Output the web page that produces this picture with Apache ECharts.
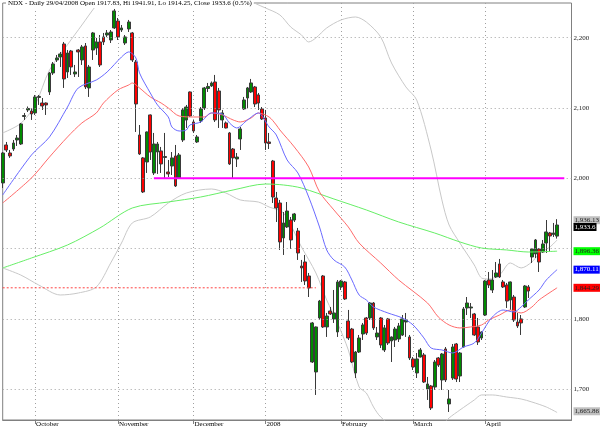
<!DOCTYPE html>
<html><head><meta charset="utf-8">
<script src="https://cdn.jsdelivr.net/npm/echarts@6/dist/echarts.min.js"></script>
<style>html,body{margin:0;padding:0;background:#fff}#c{width:600px;height:428px}</style>
</head><body><div id="c"></div>
<script>
// Trading-day slots (Sept 18 2007 .. Apr 29 2008 plus 4 empty slots at the right)
const slotCount = 159;
const categories = Array.from({length: slotCount}, (_, i) => String(i));
const monthTicks = {9:'October',32:'November',53:'December',73:'2008',94:'February',114:'March',134:'April'};
const yTicks = [1700, 1800, 1900, 2000, 2100, 2200];
const yTickLabels = ['1,700', '1,800', '', '2,000', '2,100', '2,200'];
const title = 'NDX - Daily 29/04/2008 Open 1917.83, Hi 1941.91, Lo 1914.25, Close 1933.6 (0.5%)';

// [open, high, low, close]
const ohlc = [
[1993.4,2037.4,1986.2,2036.0],[2047.4,2051.7,2037.4,2040.3],[2036.0,2040.3,2029.0,2031.8],[2041.7,2054.5,2038.9,2050.2],
[2054.5,2061.6,2046.0,2057.3],[2048.8,2078.7,2047.4,2077.3],[2087.9,2092.9,2083.0,2089.3],[2097.2,2102.1,2094.3,2099.3],
[2095.7,2100.0,2083.0,2091.5],[2092.9,2118.5,2090.1,2115.7],[2115.0,2118.5,2104.3,2116.4],[2107.1,2114.2,2097.2,2102.9],
[2107.1,2107.8,2090.1,2104.3],[2122.8,2151.2,2118.5,2149.8],[2149.8,2165.4,2147.0,2162.6],[2168.3,2175.4,2165.4,2171.1],
[2172.5,2179.7,2158.3,2176.8],[2191.0,2193.9,2128.5,2141.3],[2151.2,2182.5,2142.7,2178.2],[2181.1,2182.5,2147.0,2158.3],
[2148.4,2161.2,2144.1,2151.2],[2182.5,2183.9,2144.1,2179.7],[2168.3,2189.6,2161.2,2186.8],[2188.2,2192.4,2127.0,2129.9],
[2128.5,2161.2,2115.7,2158.3],[2182.5,2208.1,2168.3,2206.7],[2185.3,2199.6,2175.4,2193.9],[2193.9,2203.8,2158.3,2161.2],
[2201.0,2206.7,2189.6,2193.9],[2203.8,2210.9,2201.0,2206.7],[2196.7,2210.9,2192.4,2208.1],[2213.8,2240.8,2212.4,2238.0],
[2223.7,2228.0,2196.7,2201.0],[2210.9,2218.0,2208.1,2213.8],[2192.4,2203.8,2189.6,2201.0],[2212.4,2225.2,2208.1,2222.3],
[2206.7,2208.1,2165.4,2168.3],[2165.4,2168.3,2065.9,2105.7],[2061.6,2075.8,2033.2,2034.6],[2029.0,2030.3,1979.1,1980.6],
[2023.2,2066.6,2007.6,2065.9],[2090.1,2090.8,2026.1,2037.4],[2007.6,2064.5,2004.7,2048.8],[2037.4,2051.7,2006.2,2048.8],
[2038.9,2044.6,2007.6,2020.4],[2029.6,2064.5,2000.5,2031.0],[2009.0,2026.1,2001.9,2006.2],[2017.5,2037.4,2004.7,2029.0],
[2031.8,2047.4,1987.7,1989.1],[2000.5,2036.0,1999.0,2033.2],[2054.5,2100.0,2051.7,2097.2],[2083.0,2104.3,2071.6,2101.4],
[2122.8,2123.5,2087.2,2088.6],[2080.1,2083.0,2064.5,2067.3],[2051.7,2061.6,2050.2,2058.8],[2081.5,2101.4,2078.7,2098.6],
[2100.0,2129.9,2097.2,2128.5],[2127.7,2135.6,2122.8,2130.6],[2131.3,2137.7,2129.9,2135.6],[2137.0,2147.0,2080.1,2083.0],
[2124.2,2128.5,2071.6,2097.2],[2083.0,2097.2,2071.6,2092.9],[2078.7,2080.8,2070.9,2071.6],[2064.5,2065.9,2019.0,2020.4],
[2041.7,2043.1,2000.5,2029.0],[2027.5,2036.0,2016.1,2030.3],[2055.9,2073.0,2040.3,2070.2],[2098.6,2115.7,2097.2,2111.4],
[2114.2,2129.9,2100.0,2128.5],[2122.8,2141.3,2121.4,2135.6],[2129.9,2131.3,2101.4,2105.7],[2118.5,2121.4,2097.2,2107.1],
[2098.6,2101.4,2083.0,2084.4],[2085.8,2097.2,2040.3,2050.2],[2051.7,2064.5,2041.7,2049.5],[2024.6,2026.1,1964.9,1973.4],
[1972.0,1980.6,1937.9,1957.8],[1964.9,1969.2,1898.1,1909.5],[1915.2,1952.1,1891.0,1936.5],[1930.8,1966.3,1929.4,1953.5],
[1940.7,1945.0,1899.5,1912.3],[1940.7,1950.7,1937.9,1949.3],[1925.1,1929.4,1883.9,1893.8],[1875.3,1883.9,1852.6,1872.5],
[1881.0,1891.0,1848.3,1854.0],[1861.1,1865.4,1831.2,1844.0],[1738.8,1795.7,1737.4,1794.3],[1724.6,1789.3,1691.9,1788.6],
[1801.4,1827.0,1798.5,1825.5],[1861.1,1862.5,1787.2,1788.6],[1788.6,1808.5,1774.4,1804.2],[1811.3,1817.0,1805.6,1807.1],
[1800.0,1841.2,1794.3,1808.5],[1781.5,1855.4,1774.4,1852.6],[1845.5,1855.4,1841.2,1854.0],[1852.6,1854.0,1827.0,1828.4],
[1797.1,1812.8,1770.1,1772.9],[1785.7,1787.2,1737.4,1738.8],[1723.2,1754.4,1716.0,1753.0],[1753.0,1777.2,1751.6,1772.9],
[1778.6,1794.3,1770.1,1791.4],[1801.4,1802.8,1777.2,1780.0],[1801.4,1824.1,1798.5,1822.7],[1822.7,1824.1,1784.3,1787.2],
[1774.4,1788.6,1770.1,1780.0],[1801.4,1802.8,1758.7,1763.0],[1755.9,1791.4,1753.0,1787.2],[1800.0,1801.4,1763.0,1765.8],
[1768.7,1775.1,1738.8,1774.4],[1770.1,1788.6,1760.1,1785.7],[1771.5,1794.3,1767.2,1790.0],[1777.2,1805.6,1775.8,1800.0],
[1795.7,1808.5,1774.4,1798.5],[1774.4,1777.2,1741.6,1744.5],[1743.1,1745.9,1727.4,1731.7],[1723.2,1751.6,1716.0,1743.1],
[1745.9,1758.7,1745.2,1755.9],[1748.8,1751.6,1708.9,1710.3],[1700.4,1717.5,1684.8,1707.5],[1704.7,1706.1,1670.5,1673.4],
[1703.2,1741.6,1699.0,1738.8],[1744.5,1745.9,1731.7,1734.5],[1713.2,1751.6,1699.0,1750.2],[1757.3,1760.1,1710.3,1713.2],
[1679.1,1699.0,1667.7,1686.2],[1716.0,1764.4,1713.2,1760.1],[1764.4,1765.8,1710.3,1714.6],[1718.9,1753.0,1710.3,1751.6],
[1760.1,1817.0,1759.4,1814.2],[1815.6,1831.2,1805.6,1822.7],[1815.6,1822.7,1801.4,1817.0],[1807.1,1808.5,1775.8,1777.2],
[1788.6,1801.4,1763.0,1767.2],[1772.9,1782.2,1770.1,1781.5],[1805.6,1855.4,1804.2,1854.0],[1855.4,1866.8,1844.0,1848.3],
[1841.2,1869.6,1836.9,1855.4],[1859.7,1881.0,1858.3,1865.4],[1878.2,1885.3,1858.3,1859.7],[1852.6,1855.4,1844.0,1845.5],
[1848.3,1851.2,1815.6,1825.5],[1827.0,1853.3,1812.8,1852.6],[1831.2,1834.1,1795.7,1798.5],[1795.7,1808.5,1787.2,1790.0],
[1800.0,1805.6,1777.2,1794.3],[1817.0,1848.3,1815.6,1846.9],[1845.5,1848.3,1829.8,1839.8],[1888.1,1900.9,1879.6,1899.5],
[1892.4,1913.7,1886.7,1912.3],[1899.5,1900.9,1866.8,1881.0],[1895.2,1912.3,1893.8,1906.6],[1908.0,1940.7,1893.8,1923.7],
[1922.3,1923.7,1895.2,1918.0],[1920.1,1936.5,1916.6,1922.3],[1917.83,1941.91,1914.25,1933.6]
];

// Indicator lines, read as [slot, value]
const maFast = [[0,1976.3],[8,2033.2],[13,2058.8],[18,2101.4],[21,2128.5],[26,2139.8],[29,2151.2],[33,2172.5],[35,2179.7],[37,2171.1],[38,2149.8],[41,2121.3],[43,2104.3],[46,2087.2],[47,2073.0],[49,2067.3],[51,2068.7],[52,2075.8],[55,2080.1],[58,2092.9],[61,2091.5],[63,2078.7],[65,2071.6],[68,2083.0],[71,2092.9],[74,2073.0],[76,2061.6],[79,2026.1],[82,2007.6],[85,1973.4],[88,1930.8],[90,1898.1],[92,1883.9],[95,1873.9],[97,1855.4],[99,1834.1],[101,1827.0],[103,1817.0],[107,1808.5],[111,1801.4],[114,1791.4],[117,1773.0],[119,1758.7],[122,1755.9],[125,1751.6],[128,1760.1],[131,1765.8],[133,1780.0],[136,1802.8],[139,1812.7],[142,1809.9],[144,1817.0],[146,1827.0],[149,1841.2],[151,1855.4],[154,1870.11]];
const maMid = [[0,1964.9],[8,2000.5],[13,2030.3],[18,2058.8],[22,2078.7],[26,2092.9],[28,2107.1],[32,2125.6],[35,2132.7],[36,2135.6],[38,2128.5],[41,2115.7],[44,2107.1],[46,2100.0],[49,2088.6],[53,2087.2],[56,2087.2],[58,2092.9],[61,2090.1],[64,2083.0],[66,2080.1],[69,2085.8],[71,2092.9],[74,2087.2],[76,2075.8],[77,2068.7],[81,2044.6],[85,2016.1],[88,1980.6],[92,1955.0],[96,1930.8],[99,1908.0],[105,1879.6],[110,1855.4],[118,1822.7],[121,1802.8],[124,1791.4],[127,1787.2],[130,1788.6],[133,1791.4],[135,1798.5],[138,1805.6],[141,1812.7],[144,1808.5],[147,1817.0],[149,1827.0],[154,1844.29]];
const maSlow = [[0,1872.5],[8,1886.7],[18,1905.2],[27,1929.4],[36,1957.8],[46,1966.3],[55,1973.4],[64,1983.4],[73,1991.9],[78,1990.5],[83,1986.2],[92,1970.6],[101,1955.0],[110,1937.9],[120,1922.2],[127,1909.5],[133,1900.9],[140,1898.1],[146,1895.2],[154,1896.36]];
const bandUpper = [[0,2064.5],[5,2078],[9,2104],[13,2154],[18,2190],[22,2218],[26,2246],[30,2268],[36,2285],[42,2300],[50,2295],[58,2280],[65,2262],[70,2249],[73,2242.2],[77,2232.3],[80,2215.2],[83,2203.8],[85,2193.9],[87,2199.6],[90,2213.8],[94,2225.2],[98,2229.4],[101,2222.3],[105,2201.0],[108,2164.0],[112,2129.9],[115,2111.4],[119,2040.3],[122,1969.2],[124,1933.6],[127,1908.0],[131,1876.7],[133,1858.3],[135,1856.8],[138,1862.5],[141,1879.6],[144,1872.5],[147,1881.0],[149,1892.4],[152,1902.3],[154,1912.3]];
const bandLower = [[0,1872.5],[5,1862.5],[10,1848.3],[16,1834.1],[21,1836.9],[26,1845.5],[30,1879.6],[33,1908.0],[36,1936.5],[41,1945.0],[46,1964.9],[51,1979.1],[58,1984.8],[62,1979.1],[66,1969.2],[71,1966.3],[74,1959.2],[78,1950.7],[83,1902.3],[87,1865.4],[90,1827.0],[93,1794.3],[96,1755.9],[99,1703.2],[101,1694.7],[103,1674.8],[105,1660.6],[110,1640],[115,1630],[120,1640],[124,1659.2],[127,1670.5],[131,1684.8],[133,1691.9],[136,1691.9],[140,1689.0],[144,1686.2],[147,1681.9],[151,1674.8],[154,1667]];
const resistance = [[42,2000],[156,2000]];
const priceLine = [[0,1844.29],[87,1844.29]];

// right-hand value tags
const tags = {upper:'1,936.13', close:'1,933.6', slow:'1,896.36', fast:'1,870.11', mid:'1,844.29', lower:'1,665.86'};
const tagValues = {upper:1936.13, close:1933.6, slow:1896.36, fast:1870.11, mid:1844.29, lower:1665.86};

const FONT = 'Liberation Serif';
const chart = echarts.init(document.getElementById('c'), null, {renderer:'canvas'});

function tag(val, text, bg, fg, dy) {
  return {
    silent: true, symbol: ['none','none'], animation: false,
    lineStyle: {color: 'rgba(255,255,255,0)', width: 1, type: 'solid'},
    label: {show: true, position: 'end', distance: 2, formatter: text, backgroundColor: bg, color: fg,
      fontFamily: FONT, fontSize: 7, padding: [1,1,0,1], offset: [0, dy || 0], opacity: 1},
    emphasis: {disabled: true},
    data: [{yAxis: val}]
  };
}

const gridMarks = {
  silent: true, symbol: ['none','none'], animation: false,
  lineStyle: {color: '#a0a0a0', type: [1,3], width: 1},
  label: {show: true, position: 'end', distance: 2, color: '#222', fontFamily: FONT, fontSize: 7,
    formatter: p => p.name},
  data: yTicks.map((v, i) => ({yAxis: v, name: yTickLabels[i]}))
};

chart.setOption({
  animation: false,
  backgroundColor: '#fff',
  title: {text: title, left: 6, top: -1, padding: [1,2,1,2], backgroundColor: '#fff',
    textStyle: {fontFamily: FONT, fontSize: 7, fontWeight: 'normal', color: '#000'}},
  grid: {left: 2.7, right: 28.5, top: 3, bottom: 8, show: true, borderColor: '#808080', borderWidth: 1, backgroundColor: '#fff'},
  xAxis: {
    type: 'category', data: categories, boundaryGap: false,
    axisLine: {show: true, lineStyle: {color: '#808080'}},
    axisTick: {show: true, interval: (i) => i in monthTicks, length: 4, lineStyle: {color: '#808080'}},
    axisLabel: {show: true, interval: (i) => i in monthTicks, formatter: (v, i) => monthTicks[i] || '',
      align: 'left', margin: 1, padding: [0,0,0,1], fontFamily: FONT, fontSize: 7, color: '#000'},
    splitLine: {show: true, interval: (i) => i in monthTicks, lineStyle: {color: '#a0a0a0', type: [1,3]}}
  },
  yAxis: {type: 'value', position: 'right', min: 1656.3, max: 2249.3, show: false},
  series: [
    {name: 'upper', type: 'line', data: bandUpper, smooth: 0.3, symbol: 'none', z: 3,
      lineStyle: {color: '#c8c8c8', width: 1}},
    {name: 'lower', type: 'line', data: bandLower, smooth: 0.3, symbol: 'none', z: 3,
      lineStyle: {color: '#c8c8c8', width: 1}},
    {name: 'grid', type: 'line', data: [], markLine: gridMarks, z: 1},
    {name: 'price', type: 'candlestick', data: ohlc.map(d => [d[0], d[3], d[2], d[1]]), barWidth: 3.4, z: 4,
      itemStyle: {color: '#008a00', color0: '#ff0000', borderColor: '#3a3a3a', borderColor0: '#3a3a3a', borderWidth: 1}},
    {name: 'slow', type: 'line', data: maSlow, smooth: 0.3, symbol: 'none', z: 5,
      lineStyle: {color: '#66ee66', width: 1}},
    {name: 'mid', type: 'line', data: maMid, smooth: 0.3, symbol: 'none', z: 5,
      lineStyle: {color: '#ff6a6a', width: 1}},
    {name: 'fast', type: 'line', data: maFast, smooth: 0.3, symbol: 'none', z: 5,
      lineStyle: {color: '#6a6aff', width: 1}},
    {name: 'priceLine', type: 'line', data: priceLine, symbol: 'none', z: 5,
      lineStyle: {color: '#ff4040', width: 1, type: [2,2]}},
    {name: 'resistance', type: 'line', data: resistance, symbol: 'none', z: 6,
      lineStyle: {color: '#ff00ff', width: 2}},
    {name: 'tags', type: 'line', data: [], z: 7, markLine: {
      silent: true, symbol: ['none','none'], animation: false,
      lineStyle: {color: 'rgba(255,255,255,0)', width: 1, type: 'solid'},
      label: {show: true, position: 'end', distance: 2, fontFamily: FONT, fontSize: 7, padding: [1,1,0,1],
        formatter: p => p.name},
      data: [
        {yAxis: tagValues.upper, name: tags.upper, label: {backgroundColor: '#c0c0c0', color: '#222', offset: [0,-3]}},
        {yAxis: tagValues.close, name: tags.close, label: {backgroundColor: '#000', color: '#fff', offset: [0,2]}},
        {yAxis: tagValues.slow, name: tags.slow, label: {backgroundColor: '#00ff00', color: '#222'}},
        {yAxis: tagValues.fast, name: tags.fast, label: {backgroundColor: '#0000ff', color: '#fff'}},
        {yAxis: tagValues.mid, name: tags.mid, label: {backgroundColor: '#ff0000', color: '#222'}},
        {yAxis: tagValues.lower, name: tags.lower, label: {backgroundColor: '#c0c0c0', color: '#222', offset: [0,-2]}}
      ]
    }}
  ]
});
</script></body></html>
